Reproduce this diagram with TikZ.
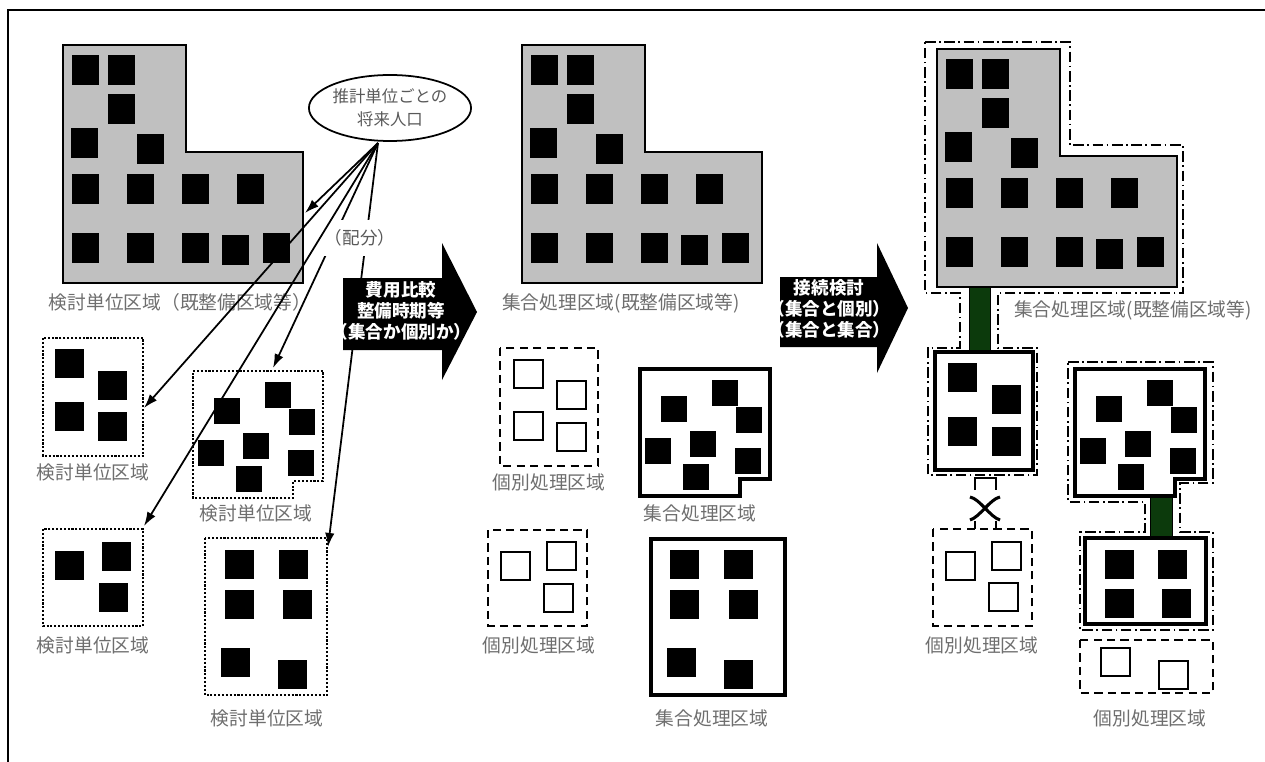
\documentclass[tikz,border=0pt]{standalone}
\usepackage{fontspec}
\usetikzlibrary{arrows.meta,shapes.geometric}
\newfontfamily\jp{Noto Sans CJK JP}
\definecolor{areagray}{HTML}{C0C0C0}
\definecolor{labelgray}{HTML}{6E6E6E}
\definecolor{pipegreen}{HTML}{0C3A0C}
\tikzset{
    frame-line/.style = {draw=black, line width=1.7pt},
    area-label/.style = {font=\jp\fontsize{16}{18}\selectfont, text=labelgray, inner sep=0pt},
    old-area/.style = {draw=black, fill=areagray, line width=2.2pt},
    dot-box/.style = {draw=black, line width=2.2pt, dash pattern=on 1.8pt off 1.5pt},
    dash-box/.style = {draw=black, line width=2.2pt, dash pattern=on 7pt off 4.5pt},
    solid-box/.style = {draw=black, fill=white, line width=3pt},
    chain-line/.style = {draw=black, line width=2.1pt, dash pattern=on 9pt off 3pt on 1.5pt off 3pt},
    bldg-open/.style = {draw=black, fill=white, line width=1.5pt},
    green-pipe/.style = {draw=black, fill=pipegreen, line width=0.6pt},
    share-line/.style = {draw=black, line width=1.5pt, -{Latex[length=12pt,width=8pt]}},
    pop-bubble/.style = {draw=black, line width=1.5pt, ellipse, minimum width=4.5cm, minimum height=1.98cm, inner sep=0pt, align=center, font=\jp\fontsize{14}{20}\selectfont, text=black!65},
    share-label/.style = {fill=white, inner xsep=1pt, inner ysep=8pt, font=\jp\fontsize{15}{18}\selectfont, text=black!65},
    go-arrow/.style = {fill=black},
    go-arrow-text/.style = {font=\jp\bfseries\fontsize{15}{18}\selectfont, text=white, align=center, inner sep=0pt},
}
\newcommand{\bldg}[3][29]{\fill[black] (#2,#3) rectangle ++(#1,#1);}
\newcommand{\openbldg}[2]{\draw[bldg-open] (#1,#2) rectangle ++(29,28);}
% L-shaped built-up area with its houses, (x,y) = top left corner
\newcommand{\Lblock}[2]{%
  \begin{scope}[shift={(#1,#2)}]
    \draw[old-area] (0,0) -- (123,0) -- (123,107) -- (240,107) -- (240,238) -- (0,238) -- cycle;
    \foreach \bx/\by in {9/10,45/10,45/49,8/83,74/89,9/129,64/129,119/129,174/129,9/188,64/188,119/188,159/190,200/188}
      \fill[black] (\bx,\by) rectangle ++(27,30);
  \end{scope}}
% area with a notch at the lower right corner
\newcommand{\notchbox}[3]{%
  \begin{scope}[shift={(#2,#3)}]
    \draw[#1] (0,0) -- (130,0) -- (130,110) -- (100,110) -- (100,127) -- (0,127) -- cycle;
    \foreach \bx/\by in {21/27,72/11,96/38,50/62,5/69,95/79,43/95}
      \fill[black] (\bx,\by) rectangle ++(26,26);
  \end{scope}}

\begin{document}
\begin{tikzpicture}[x=0.03cm, y=-0.03cm]
\useasboundingbox (0,0) rectangle (1265,762);
\draw[frame-line] (1265,10) -- (8,10) -- (8,762);

% study units
\Lblock{63}{45}
\node[area-label] (lbl-study0) at (180,302) {検討単位区域（既整備区域等）};
\draw[dot-box] (43,338) rectangle (143,456);
\foreach \bx/\by in {55/349,98/371,55/402,98/412} {\bldg{\bx}{\by}}
\node[area-label] (lbl-study1) at (93,472) {検討単位区域};
\notchbox{dot-box}{193}{371}
\node[area-label] (lbl-study2) at (256,513) {検討単位区域};
\draw[dot-box] (43,529) rectangle (143,626);
\foreach \bx/\by in {55/551,102/542,99/583} {\bldg{\bx}{\by}}
\node[area-label] (lbl-study3) at (93,645) {検討単位区域};
\draw[dot-box] (205,538) rectangle (327,695);
\foreach \bx/\by in {225/550,279/550,225/590,283/590,221/648,278/660} {\bldg{\bx}{\by}}
\node[area-label] (lbl-study4) at (267,718) {検討単位区域};

% after comparison
\Lblock{522}{45}
\node[area-label] (lbl-sewer0) at (621,303) {集合処理区域(既整備区域等)};
\draw[dash-box] (500,348) rectangle (598,466);
\foreach \bx/\by in {514/360,557/381,514/412,557/423} {\openbldg{\bx}{\by}}
\node[area-label] (lbl-indiv1) at (549,482) {個別処理区域};
\notchbox{solid-box}{640}{369}
\node[area-label] (lbl-sewer1) at (700,513) {集合処理区域};
\draw[dash-box] (488,530) rectangle (587,626);
\foreach \bx/\by in {501/552,547/542,544/584} {\openbldg{\bx}{\by}}
\node[area-label] (lbl-indiv2) at (539,645) {個別処理区域};
\draw[solid-box] (651,539) rectangle (785,695);
\foreach \bx/\by in {670/550,724/550,670/590,729/590,667/648,724/660} {\bldg{\bx}{\by}}
\node[area-label] (lbl-sewer2) at (712,718) {集合処理区域};

% after connection study
\draw[green-pipe] (969,284) rectangle (990,353);
\draw[green-pipe] (1150,493) rectangle (1172,540);
\draw[chain-line] (925,42) -- (1070,42) -- (1070,145) -- (1183,145) -- (1183,293) -- (998,293) -- (998,348) -- (1037,348) -- (1037,475) -- (928,475) -- (928,348) -- (960,348) -- (960,293) -- (925,293) -- cycle;
\draw[chain-line] (1068,362) -- (1213,362) -- (1213,483) -- (1180,483) -- (1180,532) -- (1213,532) -- (1213,630) -- (1080,630) -- (1080,532) -- (1145,532) -- (1145,502) -- (1068,502) -- cycle;
\Lblock{937}{49}
\node[area-label] (lbl-sewer3) at (1133,310) {集合処理区域(既整備区域等)};
\draw[solid-box] (935,352) rectangle (1033,470);
\foreach \bx/\by in {948/363,992/385,948/417,992/427} {\bldg{\bx}{\by}}
\notchbox{solid-box}{1075}{369}
\draw[solid-box] (1085,538) rectangle (1206,624);
\foreach \bx/\by in {1105/550,1158/550,1105/589,1162/589} {\bldg{\bx}{\by}}
\draw[dash-box] (933,529) rectangle (1032,626);
\foreach \bx/\by in {946/552,992/542,989/583} {\openbldg{\bx}{\by}}
\node[area-label] (lbl-indiv3) at (982,645) {個別処理区域};
\draw[dash-box] (1080,640) rectangle (1213,693);
\foreach \bx/\by in {1101/648,1159/661} {\openbldg{\bx}{\by}}
\node[area-label] (lbl-indiv4) at (1150,718) {個別処理区域};
% cut link
\draw[line width=2pt] (975,490) -- (975,478) -- (996,478) -- (996,490);
\draw[line width=2.6pt] (970,497) .. controls (980,499) and (990,517) .. (1000,520);
\draw[line width=2.6pt] (1000,497) .. controls (990,499) and (980,517) .. (970,520);
\draw[line width=2pt] (975,521) -- (975,529);
\draw[line width=2pt] (996,521) -- (996,529);

% population split
\node[pop-bubble] (pop) at (390,108) {推計単位ごとの\\将来人口};
\coordinate (fan) at (378,143);
\coordinate (to-study0) at (305,213);
\coordinate (to-study1) at (144,408);
\coordinate (to-study2) at (273,368);
\coordinate (to-study3) at (144,526);
\coordinate (to-study4) at (328,547);
\draw[share-line] (fan) -- (to-study0);
\draw[share-line] (fan) -- (to-study1);
\draw[share-line] (fan) -- (to-study2);
\draw[share-line] (fan) -- (to-study4);
\node[share-label] (share) at (360,238) {（配分）};
\draw[share-line] (fan) -- (to-study3);

% big arrows
\fill[go-arrow] (343,278) -- (442,278) -- (442,243) -- (477,312) -- (442,380) -- (442,350) -- (343,350) -- cycle;
\node[go-arrow-text] (compare) at (401,311) {費用比較\\整備時期等\\（集合か個別か）};
\fill[go-arrow] (780,277) -- (877,277) -- (877,243) -- (908,308) -- (877,373) -- (877,347) -- (780,347) -- cycle;
\node[go-arrow-text] (connect) at (829,309) {接続検討\\（集合と個別）\\（集合と集合）};
\end{tikzpicture}
\end{document}
